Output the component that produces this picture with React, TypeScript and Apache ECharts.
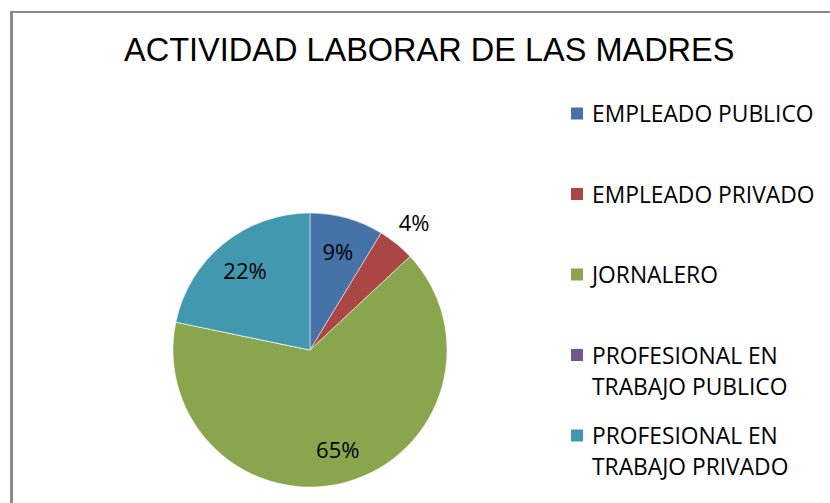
import React, { useEffect, useRef } from "react";
import * as echarts from "echarts";

const titleText = "ACTIVIDAD LABORAR DE LAS MADRES";
const categories = [
  "EMPLEADO PUBLICO",
  "EMPLEADO PRIVADO",
  "JORNALERO",
  "PROFESIONAL EN TRABAJO PUBLICO",
  "PROFESIONAL EN TRABAJO PRIVADO",
];
const legendLines = [
  ["EMPLEADO PUBLICO"],
  ["EMPLEADO PRIVADO"],
  ["JORNALERO"],
  ["PROFESIONAL EN", "TRABAJO PUBLICO"],
  ["PROFESIONAL EN", "TRABAJO PRIVADO"],
];
const values = [8, 4, 60, 0, 20];
const colors = ["#4572A7", "#AA4643", "#89A54E", "#71588F", "#4198AF"];

export default function App() {
  const ref = useRef<HTMLDivElement>(null);
  useEffect(() => {
    if (!ref.current) return;
    const chart = echarts.init(ref.current, null, { renderer: "svg" });
    const data = categories.map((name, i) => ({
      name,
      value: values[i],
      itemStyle: { color: colors[i] },
    }));
    const labelFont = { fontFamily: "Open Sans", fontSize: 22, color: "#000" };
    const lineH = 31;
    const legendCenter0 = 113.5;
    const legendStep = 80.5;
    const legends = categories.map((name, i) => {
      const lines = legendLines[i].length;
      // blank lines above keep the marker level with the first line
      const textLines = Array(lines - 1).fill("").concat(legendLines[i]);
      const blockHalf = (textLines.length * lineH) / 2;
      return {
        left: 569,
        top: legendCenter0 + legendStep * i - blockHalf,
        orient: "vertical",
        padding: 0,
        data: [name],
        icon: "rect",
        itemWidth: 14,
        itemHeight: 14,
        selectedMode: false,
        formatter: () => textLines.join("\n"),
        textStyle: {
          fontFamily: "Open Sans",
          fontSize: 22.8,
          color: "#000",
          lineHeight: lineH,
          padding: [0, 0, 0, 3],
        },
      };
    });
    const center = [310, 350];
    chart.setOption({
      animation: false,
      backgroundColor: "#fff",
      title: {
        text: titleText,
        left: 124,
        top: 33,
        padding: 0,
        textStyle: {
          fontFamily: "Liberation Sans",
          fontSize: 32.5,
          fontWeight: "normal",
          color: "#000",
        },
      },
      legend: legends,
      graphic: [
        { type: "rect", shape: { x: 10, y: 11, width: 820, height: 2 }, style: { fill: "#8a8a8a" }, silent: true },
        { type: "rect", shape: { x: 10, y: 11, width: 3, height: 492 }, style: { fill: "#8a8a8a" }, silent: true },
      ],
      series: [
        {
          type: "pie",
          center,
          radius: [0, 137],
          startAngle: 90,
          clockwise: true,
          data,
          label: { show: false },
          labelLine: { show: false },
          itemStyle: { borderColor: "#fff", borderWidth: 0.5 },
          emphasis: { disabled: true },
        },
        {
          type: "pie",
          center,
          radius: [63, 137],
          startAngle: 90,
          clockwise: true,
          silent: true,
          data: categories.map((name, i) => ({ name, value: values[i] })),
          itemStyle: { color: "transparent" },
          label: {
            show: true,
            position: "inside",
            ...labelFont,
            formatter: (p: any) => (p.percent >= 5 ? Math.round(p.percent) + "%" : ""),
          },
          labelLine: { show: false },
          emphasis: { disabled: true },
        },
        {
          type: "pie",
          center,
          radius: [137, 187],
          startAngle: 90,
          clockwise: true,
          silent: true,
          data: categories.map((name, i) => ({ name, value: values[i] })),
          itemStyle: { color: "transparent" },
          label: {
            show: true,
            position: "inside",
            ...labelFont,
            formatter: (p: any) => (p.percent > 0 && p.percent < 5 ? Math.round(p.percent) + "%" : ""),
          },
          labelLine: { show: false },
          emphasis: { disabled: true },
        },
      ],
    });
    return () => chart.dispose();
  }, []);
  return (
    <div
      ref={ref}
      style={{ position: "absolute", left: 0, top: 0, width: 830, height: 503, background: "#fff" }}
    />
  );
}
